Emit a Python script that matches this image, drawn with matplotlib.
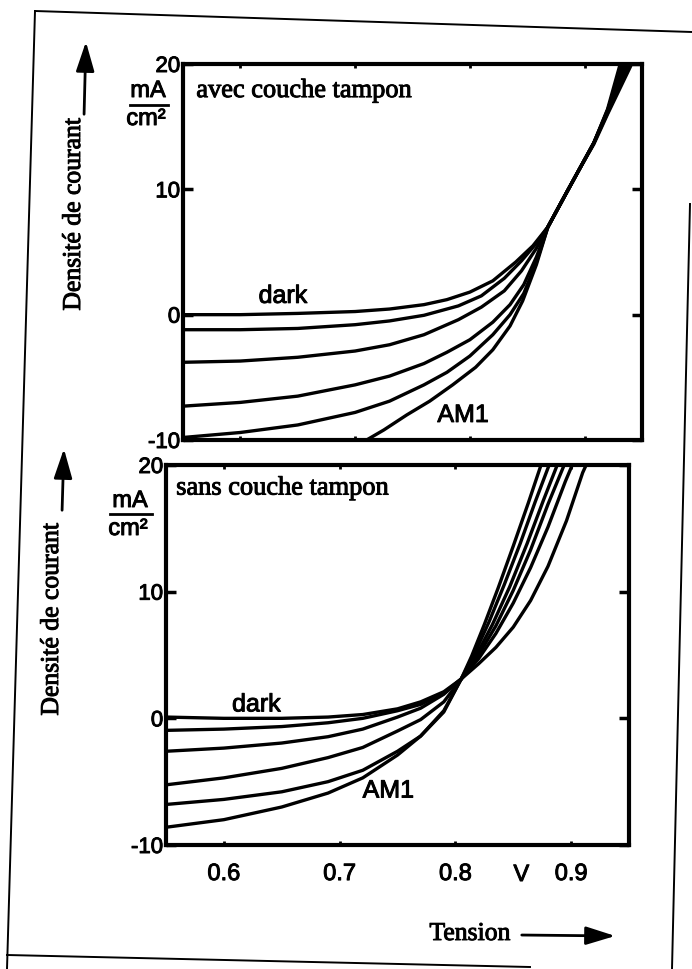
import matplotlib
matplotlib.use('Agg')
import matplotlib.pyplot as plt
import matplotlib.patheffects as pe
from matplotlib.lines import Line2D
from matplotlib.patches import FancyArrowPatch
from matplotlib.transforms import blended_transform_factory

plt.rcParams['font.family'] = ['Liberation Sans', 'DejaVu Sans']
SERIF = ['Liberation Serif', 'DejaVu Serif']
INK = [pe.withStroke(linewidth=0.7, foreground='black')]

W, H = 692, 970

volt_ticks = [0.6, 0.7, 0.8, 0.9]
volt_labels = ['0.6', '0.7', '0.8', '0.9']
cur_ticks = [-10, 0, 10, 20]
cur_labels = ['-10', '0', '10', '20']

# avec couche tampon (top panel)
avec_dark_v = [0.55, 0.60, 0.65, 0.70, 0.73, 0.76, 0.78, 0.80, 0.82, 0.84, 0.855, 0.868, 0.884, 0.896, 0.908, 0.92, 0.931]
avec_dark_i = [0.0, 0.0, 0.1, 0.25, 0.45, 0.8, 1.2, 1.8, 2.7, 4.2, 5.5, 7.0, 9.7, 11.7, 13.7, 16.4, 20.0]
avec_c2_v = [0.55, 0.60, 0.65, 0.70, 0.73, 0.76, 0.79, 0.81, 0.83, 0.845, 0.858, 0.868, 0.884, 0.896, 0.908, 0.92, 0.933]
avec_c2_i = [-1.2, -1.2, -1.1, -0.8, -0.5, -0.05, 0.7, 1.5, 2.9, 4.3, 5.7, 7.0, 9.7, 11.7, 13.7, 16.3, 20.0]
avec_c3_v = [0.55, 0.60, 0.65, 0.70, 0.73, 0.76, 0.79, 0.81, 0.83, 0.845, 0.858, 0.868, 0.884, 0.896, 0.908, 0.92, 0.935]
avec_c3_i = [-3.8, -3.7, -3.4, -2.9, -2.4, -1.6, -0.4, 0.6, 1.9, 3.5, 5.3, 7.0, 9.7, 11.7, 13.7, 16.3, 20.0]
avec_c4_v = [0.55, 0.60, 0.65, 0.70, 0.73, 0.76, 0.78, 0.80, 0.82, 0.835, 0.847, 0.858, 0.868, 0.884, 0.896, 0.908, 0.92, 0.937]
avec_c4_i = [-7.3, -7.0, -6.5, -5.6, -4.9, -3.9, -3.0, -2.0, -0.6, 0.8, 2.4, 4.6, 7.0, 9.7, 11.7, 13.7, 16.2, 20.0]
avec_c5_v = [0.55, 0.60, 0.65, 0.70, 0.73, 0.76, 0.78, 0.80, 0.82, 0.835, 0.847, 0.858, 0.868, 0.884, 0.896, 0.908, 0.92, 0.939]
avec_c5_i = [-9.8, -9.4, -8.8, -7.8, -6.9, -5.6, -4.6, -3.3, -1.6, 0.0, 1.7, 4.2, 7.0, 9.7, 11.7, 13.7, 16.1, 20.0]
avec_am1_v = [0.70, 0.71, 0.725, 0.745, 0.765, 0.785, 0.805, 0.82, 0.835, 0.846, 0.858, 0.868, 0.884, 0.896, 0.908, 0.92, 0.941]
avec_am1_i = [-10.5, -10.0, -9.2, -8.0, -6.9, -5.6, -4.2, -2.8, -0.9, 1.1, 4.0, 7.0, 9.7, 11.7, 13.6, 16.0, 20.0]

# sans couche tampon (bottom panel)
sans_dark_v = [0.55, 0.60, 0.65, 0.69, 0.72, 0.75, 0.77, 0.79, 0.805, 0.82, 0.835, 0.85, 0.865, 0.88, 0.896, 0.91, 0.913]
sans_dark_i = [0.1, 0.0, 0.0, 0.1, 0.3, 0.75, 1.3, 2.1, 3.1, 4.3, 5.6, 7.2, 9.3, 12.0, 15.6, 19.4, 20.0]
sans_c2_v = [0.55, 0.60, 0.65, 0.69, 0.72, 0.75, 0.77, 0.79, 0.805, 0.82, 0.835, 0.85, 0.865, 0.88, 0.895, 0.901]
sans_c2_i = [-0.95, -0.85, -0.65, -0.35, 0.0, 0.6, 1.1, 2.0, 3.1, 4.7, 6.7, 9.1, 11.9, 15.1, 18.7, 20.0]
sans_c3_v = [0.55, 0.60, 0.65, 0.69, 0.72, 0.75, 0.77, 0.79, 0.805, 0.82, 0.835, 0.85, 0.865, 0.88, 0.894]
sans_c3_i = [-2.6, -2.35, -1.95, -1.45, -0.85, 0.1, 0.8, 1.9, 3.1, 5.0, 7.3, 10.1, 13.3, 16.9, 20.0]
sans_c4_v = [0.55, 0.60, 0.65, 0.69, 0.72, 0.75, 0.77, 0.79, 0.805, 0.817, 0.832, 0.847, 0.862, 0.876, 0.888]
sans_c4_i = [-5.25, -4.7, -3.95, -3.1, -2.3, -1.0, -0.1, 1.3, 3.1, 4.8, 7.4, 10.4, 13.8, 17.2, 20.0]
sans_c5_v = [0.55, 0.60, 0.65, 0.69, 0.72, 0.75, 0.77, 0.79, 0.805, 0.816, 0.829, 0.842, 0.856, 0.869, 0.881]
sans_c5_i = [-6.8, -6.4, -5.8, -5.0, -4.1, -2.6, -1.4, 0.6, 3.1, 5.0, 7.6, 10.5, 13.8, 17.1, 20.0]
sans_am1_v = [0.55, 0.60, 0.65, 0.69, 0.72, 0.75, 0.77, 0.79, 0.805, 0.814, 0.825, 0.837, 0.85, 0.863, 0.874]
sans_am1_i = [-8.6, -8.0, -7.0, -5.9, -4.7, -2.9, -1.4, 0.5, 3.1, 4.9, 7.4, 10.3, 13.6, 17.0, 20.0]

avec_curves = [(avec_dark_v, avec_dark_i), (avec_c2_v, avec_c2_i), (avec_c3_v, avec_c3_i),
               (avec_c4_v, avec_c4_i), (avec_c5_v, avec_c5_i), (avec_am1_v, avec_am1_i)]
sans_curves = [(sans_dark_v, sans_dark_i), (sans_c2_v, sans_c2_i), (sans_c3_v, sans_c3_i),
               (sans_c4_v, sans_c4_i), (sans_c5_v, sans_c5_i), (sans_am1_v, sans_am1_i)]


def fx(px):
    return px / W


def fy(py):
    return 1 - py / H


fig = plt.figure(figsize=(W / 100, H / 100), dpi=100)
fig.patch.set_facecolor('white')

ax1 = fig.add_axes([fx(183), fy(441), (642 - 183) / W, (441 - 65) / H])
ax2 = fig.add_axes([fx(166), fy(846), (629 - 166) / W, (846 - 466) / H])


def style_panel(ax, show_x):
    ax.set_xlim(0.55, 0.95)
    ax.set_ylim(-10, 20)
    for s in ax.spines.values():
        s.set_linewidth(3)
    ax.set_xticks(volt_ticks)
    ax.set_yticks(cur_ticks)
    ax.set_yticklabels(cur_labels)
    if show_x:
        ax.set_xticklabels(volt_labels)
    else:
        ax.set_xticklabels([])
    ax.tick_params(axis='y', direction='in', length=7, width=2.5, left=True, right=True,
                   labelsize=16, pad=2)
    ax.tick_params(axis='x', direction='in', length=3, width=2, top=True, bottom=True,
                   labelsize=17, pad=13)
    for lab in ax.get_xticklabels() + ax.get_yticklabels():
        lab.set_path_effects(INK)


for ax, curves in [(ax1, avec_curves), (ax2, sans_curves)]:
    for v, i in curves:
        ax.plot(v, i, color='black', lw=2.4, solid_joinstyle='round', solid_capstyle='round')

style_panel(ax1, False)
style_panel(ax2, True)

ax1.text(0.029, 0.928, 'avec couche tampon', transform=ax1.transAxes, ha='left', va='center',
         family=SERIF, fontsize=19, path_effects=INK)
ax2.text(0.022, 0.938, 'sans couche tampon', transform=ax2.transAxes, ha='left', va='center',
         family=SERIF, fontsize=19, path_effects=INK)

ax1.text(0.637, 1.5, 'dark', ha='center', va='center', fontsize=18, path_effects=INK)
ax1.text(0.794, -8.0, 'AM1', ha='center', va='center', fontsize=18, path_effects=INK)
ax2.text(0.628, 1.1, 'dark', ha='center', va='center', fontsize=18, path_effects=INK)
ax2.text(0.742, -5.7, 'AM1', ha='center', va='center', fontsize=18, path_effects=INK)

# unit V among the x tick labels
trans = blended_transform_factory(ax2.transData, ax2.transAxes)
ax2.text(0.857, -0.079, 'V', transform=trans, ha='center', va='center', fontsize=17,
         path_effects=INK)

# units mA / cm2
for cx, py_top, x0, x1, py_line, py_bot in [(148, 92, 130, 168, 106, 120), (130, 502, 110, 152, 515, 530)]:
    fig.text(fx(cx), fy(py_top), 'mA', ha='center', va='center', fontsize=17, path_effects=INK)
    fig.add_artist(Line2D([fx(x0), fx(x1)], [fy(py_line), fy(py_line)], color='black', lw=2,
                          transform=fig.transFigure))
    fig.text(fx(cx - 2), fy(py_bot), 'cm²', ha='center', va='center', fontsize=17, path_effects=INK)

# axis titles with arrows
fig.text(fx(74), fy(215), 'Densité de courant', rotation=90, ha='center', va='center',
         family=SERIF, fontsize=18.5, path_effects=INK)
fig.text(fx(52), fy(620), 'Densité de courant', rotation=90, ha='center', va='center',
         family=SERIF, fontsize=18.5, path_effects=INK)
fig.text(fx(470), fy(935), 'Tension', ha='center', va='center', family=SERIF, fontsize=18.5,
         path_effects=INK)

arrow_kw = dict(arrowstyle='-|>,head_length=0.9,head_width=0.28', mutation_scale=20,
                color='black', lw=2, transform=fig.transFigure)
fig.add_artist(FancyArrowPatch((fx(84), fy(118)), (fx(86), fy(40)), **arrow_kw))
fig.add_artist(FancyArrowPatch((fx(62), fy(514)), (fx(64), fy(447)), **arrow_kw))
fig.add_artist(FancyArrowPatch((fx(519), fy(936)), (fx(618), fy(937)), **arrow_kw))

# scanned page frame
frame = [((35, 12), (692, 33)), ((35, 12), (7, 970)), ((7, 956), (530, 968)), ((690, 205), (672, 970))]
for (xa, ya), (xb, yb) in frame:
    fig.add_artist(Line2D([fx(xa), fx(xb)], [fy(ya), fy(yb)], color='black', lw=1.4,
                          transform=fig.transFigure))

fig.savefig('out.png', dpi=100, facecolor='white')
